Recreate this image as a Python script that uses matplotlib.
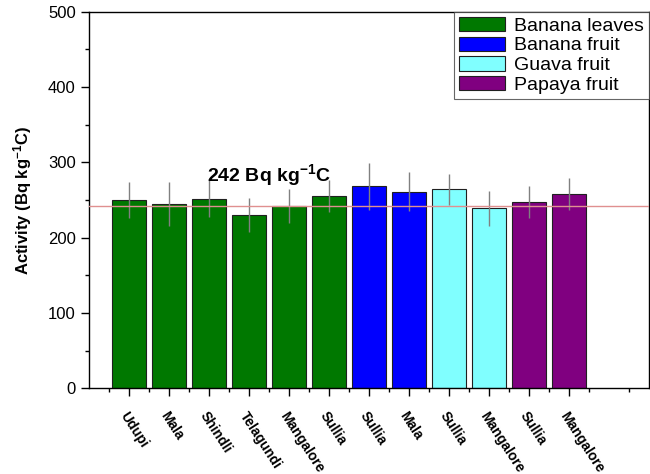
import matplotlib
matplotlib.use('Agg')
import matplotlib.pyplot as plt
import numpy as np

plt.rcParams['font.family'] = ['Liberation Sans', 'DejaVu Sans']
plt.rcParams['mathtext.fontset'] = 'custom'
plt.rcParams['mathtext.rm'] = 'Liberation Sans'
plt.rcParams['mathtext.bf'] = 'Liberation Sans:bold'
plt.rcParams['mathtext.it'] = 'Liberation Sans:italic'

# sites and measured activity (Bq kg-1 C)
sites = ['Udupi', 'Mala', 'Shindli', 'Telagundi', 'Mangalore', 'Sullia',
         'Sullia', 'Mala', 'Sullia', 'Mangalore', 'Sullia', 'Mangalore']
activity = [250, 245, 252, 230, 242, 255, 268, 261, 264, 239, 247, 258]
errors = [24, 29, 24, 23, 23, 21, 31, 26, 20, 23, 21, 21]
groups = ['Banana leaves'] * 6 + ['Banana fruit'] * 2 + ['Guava fruit'] * 2 + ['Papaya fruit'] * 2
group_names = ['Banana leaves', 'Banana fruit', 'Guava fruit', 'Papaya fruit']
group_colors = {'Banana leaves': '#007800', 'Banana fruit': '#0000ff',
                'Guava fruit': '#80ffff', 'Papaya fruit': '#800080'}
mean_line = 242

fig = plt.figure(figsize=(6.5, 4.74), dpi=100)
ax = fig.add_axes([0.137, 0.181, 0.861, 0.794])

x = np.arange(1, len(sites) + 1)
for g in group_names:
    idx = [i for i, gg in enumerate(groups) if gg == g]
    ax.bar(x[idx], [activity[i] for i in idx], width=0.85, color=group_colors[g],
           edgecolor='#202020', linewidth=0.8, label=g, zorder=2)
ax.errorbar(x, activity, yerr=errors, fmt='none', ecolor='#808080', elinewidth=1,
            capsize=0, zorder=3)

ax.axhline(mean_line, color='#e09090', linewidth=1, zorder=4)
ax.text(4.5, 283, '$\\mathbf{242\\ Bq\\ kg^{-1}C}$', fontsize=14,
        ha='center', va='center')

ax.set_xlim(0, 14)
ax.set_ylim(0, 500)
ax.set_xticks(x)
ax.set_xticks(np.arange(0.5, 14, 1), minor=True)
ax.set_xticklabels(sites, rotation=-57, ha='left', va='top', fontsize=10,
                   fontweight='bold', rotation_mode='anchor')
ax.set_yticks(np.arange(0, 501, 100))
ax.set_yticks(np.arange(0, 501, 50), minor=True)
ax.tick_params(axis='both', which='major', direction='out', length=6, width=1,
               labelsize=12)
ax.tick_params(axis='x', which='major', labelsize=10, pad=9)
ax.tick_params(axis='both', which='minor', direction='out', length=3, width=1)
ax.set_ylabel('$\\mathbf{Activity\\ (Bq\\ kg^{-1}C)}$', fontsize=12, labelpad=10)
for s in ax.spines.values():
    s.set_linewidth(1)

leg = ax.legend(loc='upper right', fontsize=14, frameon=True, fancybox=False,
                edgecolor='#404040', handlelength=2.4, handleheight=0.75,
                handletextpad=0.45, labelspacing=0.1, borderaxespad=0.0,
                borderpad=0.25)
leg.get_frame().set_linewidth(0.8)

fig.savefig('out.png', dpi=100)
